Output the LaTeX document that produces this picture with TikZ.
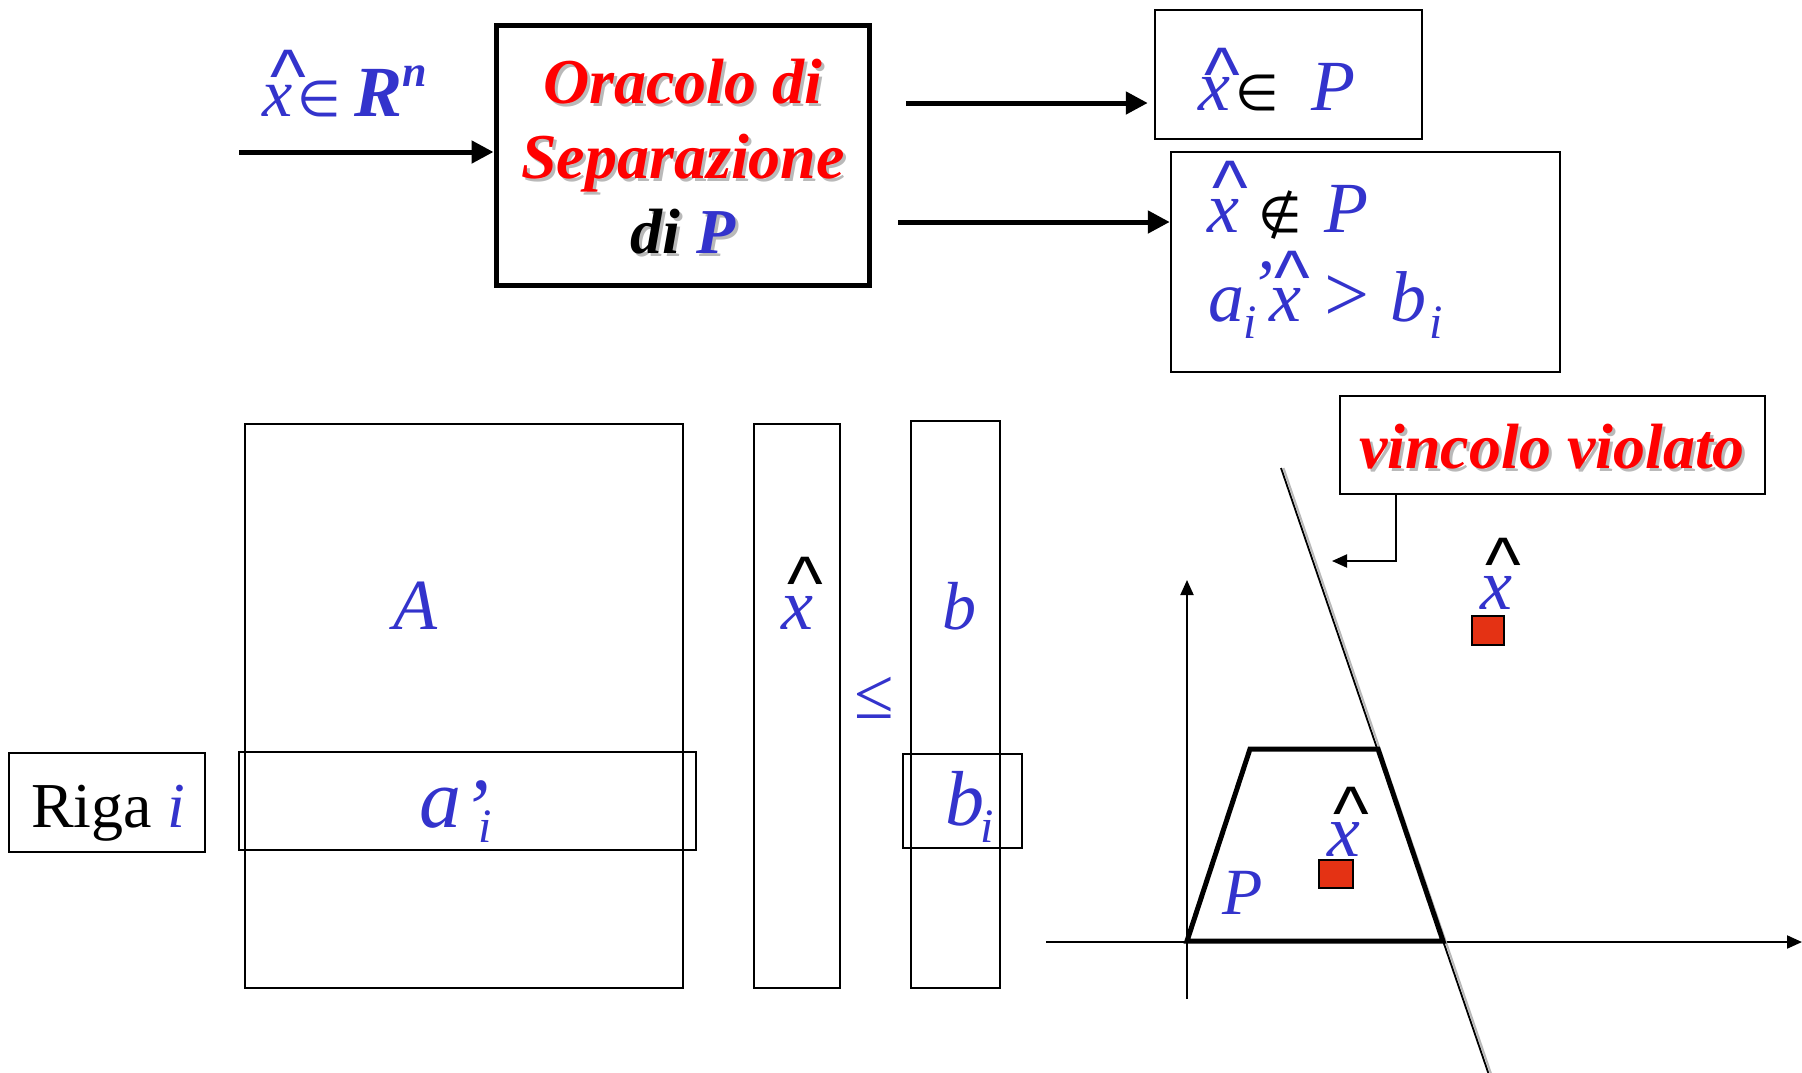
\documentclass[tikz,border=0pt]{standalone}
\usepackage{fontspec}
\setmainfont{Liberation Serif}
\newfontfamily\symf{DejaVu Sans}
\newfontfamily\hatf{Liberation Sans}
\usetikzlibrary{arrows.meta}
\definecolor{myblue}{RGB}{51,51,204}
\definecolor{myred}{RGB}{255,0,0}
\definecolor{sqred}{RGB}{228,50,20}
\definecolor{shgray}{RGB}{185,185,185}
\newcommand\fs[1]{\fontsize{#1}{#1}\selectfont}
% x with a hat: #1 hat colour, #2 raise, #3 shift
\newcommand\hx[3]{\makebox[0pt][l]{\hspace{#3}\raisebox{#2}{\textcolor{#1}{\fs{76}\hatf\char"5E}}}\textit{x}}
% text with a grey drop shadow
\newcommand\shd[2]{\makebox[0pt][l]{\hspace{3pt}\raisebox{-3pt}{\textcolor{shgray}{#2}}}\textcolor{#1}{#2}}
\begin{document}
\begin{tikzpicture}[x=1pt,y=-1pt,
  txt/.style={inner sep=0pt, outer sep=0pt},
  frame/.style={draw, line width=2.2pt, inner sep=0pt},
  bigarrow/.style={line width=5pt, -{Triangle[length=22pt,width=22pt]}},
  thinarrow/.style={line width=2pt, -{Triangle[length=15pt,width=13pt]}},
  redsq/.style={draw, fill=sqred, line width=2pt, inner sep=0pt}]
\useasboundingbox (0,0) rectangle (1802,1072);

% ---------- top: oracle ----------
\node[frame, line width=5pt, minimum width=373pt, minimum height=260pt] (orc) at (682.5,155) {};
\node[txt, anchor=base] (orc1) at (683,103) {\fs{64}\bfseries\itshape\shd{myred}{Oracolo di}};
\node[txt, anchor=base] (orc2) at (683,178) {\fs{64}\bfseries\itshape\shd{myred}{Separazione}};
\node[txt, anchor=base] (orc3) at (683,253) {\fs{64}\bfseries\itshape\shd{black}{di} \shd{myblue}{P}};

\node[txt, anchor=base west] (inlab) at (262,116) {\fs{68}\color{myblue}\hx{myblue}{14pt}{8pt}\hspace{5pt}{\symf\fs{50}∈}\hspace{14pt}{\fs{72}\bfseries\itshape R}\raisebox{30pt}{\fs{44}\bfseries\itshape n}};
\coordinate (inA) at (239,152);
\draw[bigarrow] (inA) -- (inA -| orc.west);

% box 1
\node[frame, line width=2.5pt, minimum width=267pt, minimum height=129pt] (b1) at (1288.5,74.5) {};
\node[txt, anchor=base west] (b1t) at (1198,110) {\fs{72}\color{myblue}\hx{myblue}{10pt}{6pt}\hspace{6pt}{\symf\fs{50}\textcolor{black}{∈}}\hspace{32pt}\textit{P}};
\coordinate (o1) at (906,103);
\draw[bigarrow, shorten >=6pt] (o1) -- (o1 -| b1.west);

% box 2
\node[frame, line width=2.5pt, minimum width=389pt, minimum height=220pt] (b2) at (1365.5,262) {};
\node[txt, anchor=base west] (b2t1) at (1207,232) {\fs{72}\color{myblue}\hx{myblue}{19pt}{5pt}\hspace{20pt}{\symf\fs{50}\textcolor{black}{∉}}\hspace{22pt}\textit{P}};
\node[txt, anchor=base west] (b2t2) at (1208,321) {\fs{72}\color{myblue}\textit{a}\makebox[0pt][l]{\hspace{5pt}\raisebox{12pt}{\textit{’}}}\hspace{-1pt}\raisebox{-17pt}{\fs{48}\textit{i}}\hspace{13pt}\hx{myblue}{18pt}{5pt}\hspace{23pt}{\fs{80}>}\hspace{21pt}\textit{b}\hspace{3pt}\raisebox{-17pt}{\fs{48}\textit{i}}};
\coordinate (o2) at (898,222);
\draw[bigarrow] (o2) -- (o2 -| b2.west);

% ---------- bottom left: matrices ----------
\node[frame, minimum width=438pt, minimum height=564pt] (matA) at (464,706) {};
\node[frame, minimum width=457pt, minimum height=98pt] (rowa) at (467.5,801) {};
\node[frame, minimum width=196pt, minimum height=99pt] (riga) at (107,802.5) {};
\node[frame, minimum width=86pt, minimum height=564pt] (colx) at (797,706) {};
\node[frame, minimum width=89pt, minimum height=567pt] (colb) at (955.5,704.5) {};
\node[frame, minimum width=119pt, minimum height=94pt] (rowb) at (962.5,801) {};

\node[txt, anchor=base west] (rigat) at (31,827) {\fs{64}Riga \textcolor{myblue}{\itshape i}};
\node[txt, anchor=base west] (atxt) at (419,827) {\fs{84}\color{myblue}\textit{a}\raisebox{-9pt}{\textit{’}}\hspace{-10pt}\raisebox{-15pt}{\fs{48}\textit{i}}};
\node[txt, anchor=base west] (Atxt) at (393,629) {\fs{72}\color{myblue}\textit{A}};
\node[txt, anchor=base west] (xcol) at (781,629) {\fs{72}\color{myblue}\hx{black}{20pt}{6pt}};
\node[txt, anchor=base west] (leq) at (854,718) {\fs{72}\color{myblue}≤};
\node[txt, anchor=base west] (btxt) at (942,629) {\fs{68}\color{myblue}\textit{b}};
\node[txt, anchor=base west] (bitxt) at (945,825) {\fs{78}\color{myblue}\textit{b}\hspace{-4pt}\raisebox{-17pt}{\fs{48}\textit{i}}};

% ---------- bottom right: graph ----------
\coordinate (xl) at (1046,942);
\coordinate (xr) at (1802,942);
\coordinate (yb) at (1187,999);
\coordinate (yt) at (1187,580);
\draw[thinarrow] (xl) -- (xr);
\draw[thinarrow] (yb) -- (yt);

\coordinate (c1) at (1281,468);
\coordinate (c2) at (1490,1078);
\draw[shgray, line width=2pt] ([xshift=2.5pt]c1) -- ([xshift=2.5pt]c2);
\draw[line width=1.8pt] (c1) -- (c2);

\draw[line width=5pt, line join=miter] (1187,941) -- (1250,749) -- (1378,749) -- (1443,941) -- cycle;

\node[redsq, minimum width=32pt, minimum height=29pt] (sqo) at (1488,630.5) {};
\node[redsq, minimum width=34pt, minimum height=28pt] (sqi) at (1336,874) {};
\node[txt, anchor=base west] (xo) at (1480,609) {\fs{72}\color{myblue}\hx{black}{19pt}{5pt}};
\node[txt, anchor=base west] (xi) at (1327,856) {\fs{74}\color{myblue}\hx{black}{17pt}{6pt}};
\node[txt, anchor=base west] (Pg) at (1222,914) {\fs{66}\color{myblue}\textit{P}};

% callout
\node[frame, line width=2.5pt, minimum width=425pt, minimum height=98pt] (vv) at (1552.5,445) {};
\node[txt, anchor=base] (vvt) at (1552,468) {\fs{64}\bfseries\itshape\shd{myred}{vincolo violato}};
\coordinate (cend) at (1332,561);
\draw[thinarrow] ([xshift=57pt]vv.south west) |- (cend);
\end{tikzpicture}
\end{document}
